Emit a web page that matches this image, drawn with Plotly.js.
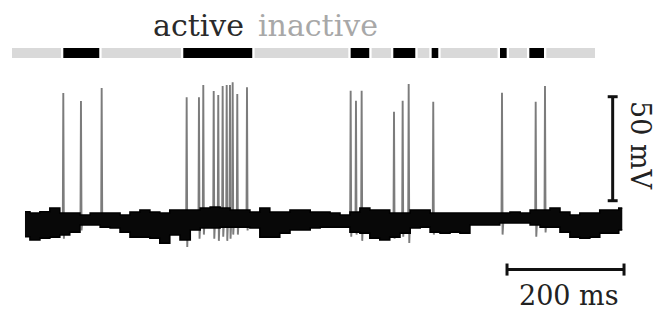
<!DOCTYPE html>
<html>
<head>
<meta charset="utf-8">
<script src="https://cdn.plot.ly/plotly-3.0.1.min.js"></script>
<style>
html,body{margin:0;padding:0;background:#fff;}
#chart{width:660px;height:323px;}
</style>
</head>
<body>
<div id="chart"></div>
<script>
// ---- Data (time in ms, membrane potential in mV) ----
// Envelope of the subthreshold noise band
const envTime = [0,17,34,51,68,85,103,120,137,154,171,188,205,222,239,256,274,291,308,325,342,359,376,393,410,427,444,462,479,496,513,530,547,564,581,598,615,632,650,667,684,701,718,735,752,769,786,803,820,838,855,872,889,906,923,940,957,974,991,1009,1021];
const envUpper = [-61.0,-61.6,-61.0,-59.2,-61.6,-61.6,-62.6,-61.6,-61.6,-61.6,-62.6,-61.2,-60.2,-61.2,-61.6,-60.2,-60.2,-60.2,-59.2,-58.8,-59.2,-60.2,-60.2,-61.2,-59.2,-61.2,-61.2,-60.2,-60.2,-61.2,-61.2,-61.6,-62.6,-61.2,-59.2,-60.2,-60.2,-61.6,-61.6,-60.2,-60.2,-61.6,-61.6,-61.6,-61.6,-61.6,-61.6,-61.6,-61.6,-61.2,-61.6,-60.2,-60.2,-59.2,-61.2,-62.6,-61.6,-61.6,-60.2,-60.2,-59.2];
const envLower = [-73.0,-74.6,-73.7,-73.2,-72.2,-70.8,-67.4,-67.4,-68.4,-68.8,-70.8,-73.2,-73.2,-73.7,-76.1,-72.2,-74.6,-69.8,-68.8,-68.8,-68.4,-68.4,-68.4,-68.8,-73.2,-73.2,-71.3,-69.8,-69.8,-68.8,-68.4,-68.4,-68.4,-70.8,-71.3,-73.7,-74.6,-73.2,-71.3,-68.8,-68.4,-70.8,-71.3,-70.8,-71.3,-67.4,-67.4,-67.4,-66.4,-66.4,-66.4,-67.4,-68.4,-68.4,-70.8,-73.2,-73.7,-73.2,-71.3,-71.3,-69.8];

// Action potentials
const spikeTime   = [65.5,95.7,131.1,276.4,297.4,304.8,322.6,330.4,337.9,344.8,350.4,355.0,362.9,379.5,556.7,565.8,575.5,630.8,645.6,655.9,697.9,815.4,873.0,888.9];
const spikePeak   = [-3.9,-7.8,-1.5,-5.9,-5.9,-0.1,-3.0,-4.9,-0.6,-0.1,-0.1,1.3,-4.4,-1.1,-2.8,-7.6,-2.8,-12.9,-7.6,0.4,-8.1,-3.8,-8.1,-0.6];
const spikeTrough = [-74,-70,-68,-78,-74,-72,-74,-75,-73,-75,-74,-72,-72,-70,-73,-72,-75,-74,-73,-76,-72,-72,-73,-71];

// Activity state bar (ms)
const inactiveSpan = [-22.2, 974.4];
const activeStart = [65.5,270.6,556.7,629.6,695.2,812.0,862.1];
const activeEnd   = [127.0,388.5,588.5,667.2,706.5,823.4,887.2];

// Scale bars
const scaleTime = [824, 1024];   // 200 ms
const scaleTimeLevel = -88.8;
const scaleVolt = [-55.7, -5.7]; // 50 mV
const scaleVoltTime = 1004.6;

// Labels
const labelActive = "active";
const labelInactive = "inactive";
const labelTime = "200 ms";
const labelVolt = "50 mV";

// ---- Build traces ----
const traces = [];

// spikes (drawn under noise band)
const sx = [], sy = [];
for (let i = 0; i < spikeTime.length; i++) {
  const t = spikeTime[i];
  sx.push(t - 0.8, t, t + 1.0, t + 2.2, null);
  sy.push(-63, spikePeak[i], spikeTrough[i], -66, null);
}
traces.push({x: sx, y: sy, mode: 'lines', line: {color: '#7c7c7c', width: 1.9},
  hoverinfo: 'skip', showlegend: false, connectgaps: false});

// noise band
traces.push({x: envTime, y: envLower, mode: 'lines', line: {color: '#000', width: 1.6, shape: 'hvh'},
  hoverinfo: 'skip', showlegend: false});
traces.push({x: envTime, y: envUpper, mode: 'lines', fill: 'tonexty', fillcolor: '#080808',
  line: {color: '#000', width: 1.6, shape: 'hvh'}, hoverinfo: 'skip', showlegend: false});

// activity bar: inactive segments are the gaps between active blocks
const gap = 4; // ms of white space around each active block
const inStart = [inactiveSpan[0]], inEnd = [];
for (let i = 0; i < activeStart.length; i++) {
  inEnd.push(activeStart[i] - gap);
  inStart.push(activeEnd[i] + gap);
}
inEnd.push(inactiveSpan[1]);
traces.push({type: 'bar', orientation: 'h', y: inStart.map(() => 0),
  x: inStart.map((s, i) => inEnd[i] - s), base: inStart,
  width: inStart.map(() => 1), yaxis: 'y2',
  marker: {color: '#d9d9d9', line: {width: 0}}, hoverinfo: 'skip', showlegend: false});
traces.push({type: 'bar', orientation: 'h', y: activeStart.map(() => 0),
  x: activeStart.map((s, i) => activeEnd[i] - s), base: activeStart,
  width: activeStart.map(() => 1), yaxis: 'y2',
  marker: {color: '#000', line: {width: 0}}, hoverinfo: 'skip', showlegend: false});

// scale bars
const capV = 2.9, capT = 8.5;
traces.push({x: [scaleTime[0], scaleTime[0], null, scaleTime[0], scaleTime[1], null, scaleTime[1], scaleTime[1]],
  y: [scaleTimeLevel - capV, scaleTimeLevel + capV, null, scaleTimeLevel, scaleTimeLevel, null, scaleTimeLevel - capV, scaleTimeLevel + capV],
  mode: 'lines', line: {color: '#111', width: 3}, hoverinfo: 'skip', showlegend: false});
traces.push({x: [scaleVoltTime - capT, scaleVoltTime + capT, null, scaleVoltTime, scaleVoltTime, null, scaleVoltTime - capT, scaleVoltTime + capT],
  y: [scaleVolt[1], scaleVolt[1], null, scaleVolt[1], scaleVolt[0], null, scaleVolt[0], scaleVolt[0]],
  mode: 'lines', line: {color: '#111', width: 3}, hoverinfo: 'skip', showlegend: false});

const W = 660, H = 323;
const serif = '"DejaVu Serif", "Liberation Serif", serif';
const layout = {
  width: W, height: H,
  margin: {l: 0, r: 0, t: 0, b: 0},
  paper_bgcolor: '#fff', plot_bgcolor: '#fff',
  barmode: 'overlay',
  showlegend: false,
  xaxis: {range: [-42.7, 1085.5], visible: false, fixedrange: true},
  yaxis: {range: [-114.5, 40.8], visible: false, fixedrange: true, domain: [0, 1]},
  yaxis2: {range: [-0.5, 0.5], visible: false, fixedrange: true, domain: [1 - 58/H, 1 - 48/H], anchor: 'x'},
  annotations: [
    {text: labelActive, xref: 'paper', yref: 'paper', x: 198/W, y: 1 - 25/H, showarrow: false,
     xanchor: 'center', yanchor: 'middle', font: {family: serif, size: 30, color: '#2a2a2a'}},
    {text: labelInactive, xref: 'paper', yref: 'paper', x: 318/W, y: 1 - 25/H, showarrow: false,
     xanchor: 'center', yanchor: 'middle', font: {family: serif, size: 30, color: '#a8a8a8'}},
    {text: labelTime, xref: 'paper', yref: 'paper', x: 569/W, y: 1 - 295/H, showarrow: false,
     xanchor: 'center', yanchor: 'middle', font: {family: serif, size: 27, color: '#222'}},
    {text: labelVolt, xref: 'paper', yref: 'paper', x: 641/W, y: 1 - 145/H, showarrow: false, textangle: 90,
     xanchor: 'center', yanchor: 'middle', font: {family: serif, size: 27, color: '#222'}}
  ]
};

Plotly.newPlot('chart', traces, layout, {staticPlot: true, displayModeBar: false});
</script>
</body>
</html>
